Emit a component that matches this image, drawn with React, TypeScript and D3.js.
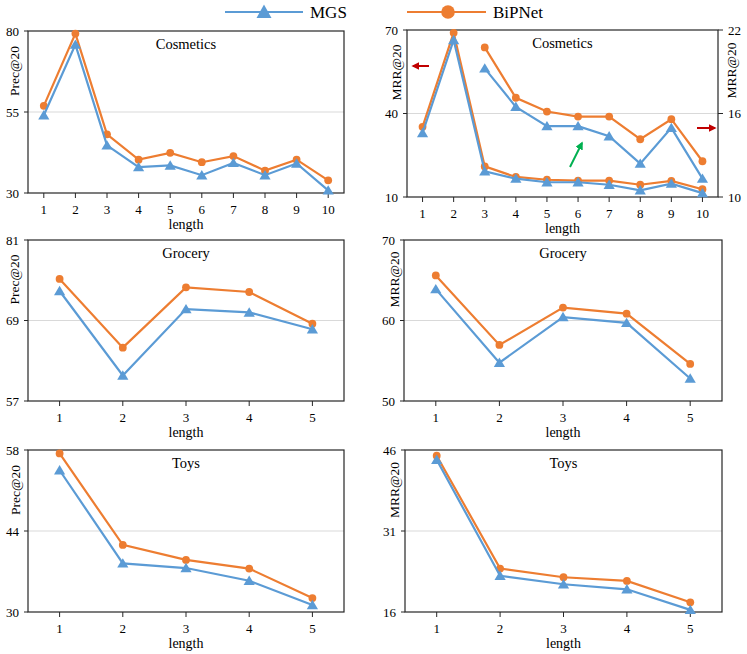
import React from 'react';
import * as d3 from 'd3';

// lengths on the x axis
const cosLengths = ['1', '2', '3', '4', '5', '6', '7', '8', '9', '10'];
const shortLengths = ['1', '2', '3', '4', '5'];
const cosRightLengths = ['3', '4', '5', '6', '7', '8', '9', '10'];

// Cosmetics
const cosPrecMGS = [54.0, 75.8, 44.7, 38.0, 38.5, 35.5, 39.3, 35.5, 39.1, 30.8];
const cosPrecBiP = [56.9, 79.2, 48.1, 40.3, 42.4, 39.5, 41.4, 36.9, 40.3, 33.9];
const cosMrrMGS = [33.0, 66.4, 19.2, 16.6, 15.3, 15.3, 14.4, 12.4, 14.8, 11.4];
const cosMrrBiP = [35.2, 69.0, 21.0, 17.2, 16.2, 15.9, 15.9, 14.4, 15.8, 12.8];
// zoomed copy on the right axis
const cosMrrRightMGS = [19.24, 16.48, 15.09, 15.09, 14.37, 12.4, 14.97, 11.32];
const cosMrrRightBiP = [20.75, 17.13, 16.14, 15.78, 15.78, 14.15, 15.59, 12.57];

// Grocery
const groPrecMGS = [73.4, 60.8, 70.7, 70.2, 67.7];
const groPrecBiP = [75.2, 64.95, 73.94, 73.25, 68.53];
const groMrrMGS = [63.9, 54.76, 60.43, 59.7, 52.8];
const groMrrBiP = [65.6, 56.96, 61.6, 60.85, 54.6];

// Toys
const toyPrecMGS = [54.5, 38.4, 37.6, 35.4, 31.2];
const toyPrecBiP = [57.4, 41.6, 39.0, 37.5, 32.4];
const toyMrrMGS = [44.2, 22.7, 21.14, 20.2, 16.4];
const toyMrrBiP = [44.95, 24.05, 22.44, 21.76, 17.8];

// tick values
const cosPrecTicks = [30, 55, 80];
const cosMrrTicks = [10, 40, 70];
const cosMrrRightTicks = [10, 16, 22];
const groPrecTicks = [57, 69, 81];
const groMrrTicks = [50, 60, 70];
const toyPrecTicks = [30, 44, 58];
const toyMrrTicks = [16, 31, 46];

const BLUE = '#5b9bd5';
const ORANGE = '#ed7d31';
const FONT = '"Liberation Serif", "Times New Roman", serif';

const triPath = 'M0,-5.2L5.6,4.2L-5.6,4.2Z';

interface Series {
  cats: string[];
  values: number[];
  right?: boolean;
}

interface PanelProps {
  x0: number;
  x1: number;
  y0: number;
  y1: number;
  title: string;
  yTitle: string;
  yTitleX: number;
  cats: string[];
  ticks: number[];
  mgs: Series[];
  bip: Series[];
  rightTicks?: number[];
}

const Panel: React.FC<PanelProps> = ({
  x0, x1, y0, y1, title, yTitle, yTitleX, cats, ticks, mgs, bip, rightTicks,
}) => {
  const x = d3.scaleBand<string>().domain(cats).range([x0, x1]);
  const y = d3.scaleLinear().domain([ticks[0], ticks[ticks.length - 1]]).range([y1, y0]);
  const yR = rightTicks
    ? d3.scaleLinear().domain([rightTicks[0], rightTicks[rightTicks.length - 1]]).range([y1, y0])
    : null;
  const cx = (c: string) => (x(c) || 0) + x.bandwidth() / 2;

  const pts = (s: Series) =>
    s.values.map((v, i) => [cx(s.cats[i]), s.right && yR ? yR(v) : y(v)] as [number, number]);
  const line = d3.line<[number, number]>();

  const drawBip = (s: Series, k: number) => {
    const p = pts(s);
    return (
      <g key={'b' + k}>
        <path d={line(p) || ''} fill="none" stroke={ORANGE} strokeWidth={2.2} />
        {p.map((q, i) => (
          <circle key={i} cx={q[0]} cy={q[1]} r={3.9} fill={ORANGE} />
        ))}
      </g>
    );
  };
  const drawMgs = (s: Series, k: number) => {
    const p = pts(s);
    return (
      <g key={'m' + k}>
        <path d={line(p) || ''} fill="none" stroke={BLUE} strokeWidth={2.2} />
        {p.map((q, i) => (
          <path key={i} d={triPath} transform={`translate(${q[0]},${q[1]})`} fill={BLUE} />
        ))}
      </g>
    );
  };

  const mid = ticks[1];
  const yMid = (y0 + y1) / 2 - 41;

  return (
    <g fontFamily={FONT} fill="#000">
      <line x1={x0} x2={x1} y1={y(mid)} y2={y(mid)} stroke="#d9d9d9" strokeWidth={1} />
      <rect x={x0} y={y0} width={x1 - x0} height={y1 - y0} fill="none" stroke="#262626" strokeWidth={1.2} />
      {ticks.map((t) => (
        <g key={t}>
          <line x1={x0 - 4} x2={x0} y1={y(t)} y2={y(t)} stroke="#262626" />
          <text x={x0 - 9} y={y(t)} dy="0.35em" textAnchor="end" fontSize={13}>
            {t}
          </text>
        </g>
      ))}
      {yR && rightTicks &&
        rightTicks.map((t) => (
          <g key={'r' + t}>
            <line x1={x1} x2={x1 + 5} y1={yR(t)} y2={yR(t)} stroke="#262626" />
            <text x={x1 + 10} y={yR(t)} dy="0.35em" textAnchor="start" fontSize={13}>
              {t}
            </text>
          </g>
        ))}
      {cats.map((c) => (
        <g key={c}>
          <line x1={cx(c)} x2={cx(c)} y1={y1} y2={y1 + 5} stroke="#262626" />
          <text x={cx(c)} y={y1 + 16} dy="0.35em" textAnchor="middle" fontSize={13}>
            {c}
          </text>
        </g>
      ))}
      <text x={(x0 + x1) / 2} y={y1 + 31} dy="0.35em" textAnchor="middle" fontSize={14}>
        length
      </text>
      <text
        transform={`translate(${yTitleX},${yMid}) rotate(-90)`}
        dy="0.35em"
        textAnchor="middle"
        fontSize={13.5}
      >
        {yTitle}
      </text>
      {rightTicks && (
        <text
          transform={`translate(${x1 + 13},${yMid - 2}) rotate(-90)`}
          dy="0.35em"
          textAnchor="middle"
          fontSize={13.5}
        >
          {yTitle}
        </text>
      )}
      <text x={(x0 + x1) / 2} y={y0 + 13} dy="0.35em" textAnchor="middle" fontSize={14.5}>
        {title}
      </text>
      {bip.map(drawBip)}
      {mgs.map(drawMgs)}
    </g>
  );
};

const App: React.FC = () => {
  return (
    <svg
      width={747}
      height={654}
      style={{ position: 'absolute', left: 0, top: 0, background: '#fff' }}
    >
      <defs>
        <marker id="arRed" viewBox="0 0 10 10" refX="8" refY="5" markerWidth="4" markerHeight="4" orient="auto">
          <path d="M0,0L10,5L0,10Z" fill="#c00000" />
        </marker>
        <marker id="arGreen" viewBox="0 0 10 10" refX="8" refY="5" markerWidth="4" markerHeight="4" orient="auto">
          <path d="M0,0L10,5L0,10Z" fill="#00b050" />
        </marker>
      </defs>

      {/* legend */}
      <g fontFamily={FONT}>
        <line x1={225} x2={303} y1={12} y2={12} stroke={BLUE} strokeWidth={2.2} />
        <path d="M0,-7.5L7.5,6L-7.5,6Z" transform="translate(264,12)" fill={BLUE} />
        <text x={310} y={12} dy="0.35em" fontSize={17}>MGS</text>
        <line x1={407} x2={486} y1={12} y2={12} stroke={ORANGE} strokeWidth={2.2} />
        <circle cx={448} cy={12} r={6.8} fill={ORANGE} />
        <text x={493} y={12} dy="0.35em" fontSize={17}>BiPNet</text>
      </g>

      <Panel
        x0={28} x1={344} y0={31} y1={193}
        title="Cosmetics" yTitle="Prec@20" yTitleX={14}
        cats={cosLengths} ticks={cosPrecTicks}
        mgs={[{ cats: cosLengths, values: cosPrecMGS }]}
        bip={[{ cats: cosLengths, values: cosPrecBiP }]}
      />
      <Panel
        x0={407} x1={718} y0={30} y1={197}
        title="Cosmetics" yTitle="MRR@20" yTitleX={396}
        cats={cosLengths} ticks={cosMrrTicks} rightTicks={cosMrrRightTicks}
        mgs={[
          { cats: cosLengths, values: cosMrrMGS },
          { cats: cosRightLengths, values: cosMrrRightMGS, right: true },
        ]}
        bip={[
          { cats: cosLengths, values: cosMrrBiP },
          { cats: cosRightLengths, values: cosMrrRightBiP, right: true },
        ]}
      />
      <Panel
        x0={28} x1={344} y0={240} y1={401}
        title="Grocery" yTitle="Prec@20" yTitleX={14}
        cats={shortLengths} ticks={groPrecTicks}
        mgs={[{ cats: shortLengths, values: groPrecMGS }]}
        bip={[{ cats: shortLengths, values: groPrecBiP }]}
      />
      <Panel
        x0={404} x1={722} y0={240} y1={401}
        title="Grocery" yTitle="MRR@20" yTitleX={394}
        cats={shortLengths} ticks={groMrrTicks}
        mgs={[{ cats: shortLengths, values: groMrrMGS }]}
        bip={[{ cats: shortLengths, values: groMrrBiP }]}
      />
      <Panel
        x0={28} x1={344} y0={450} y1={612}
        title="Toys" yTitle="Prec@20" yTitleX={15}
        cats={shortLengths} ticks={toyPrecTicks}
        mgs={[{ cats: shortLengths, values: toyPrecMGS }]}
        bip={[{ cats: shortLengths, values: toyPrecBiP }]}
      />
      <Panel
        x0={405} x1={722} y0={450} y1={612}
        title="Toys" yTitle="MRR@20" yTitleX={394}
        cats={shortLengths} ticks={toyMrrTicks}
        mgs={[{ cats: shortLengths, values: toyMrrMGS }]}
        bip={[{ cats: shortLengths, values: toyMrrBiP }]}
      />

      {/* axis pointers in the Cosmetics MRR panel */}
      <line x1={429} y1={66} x2={413} y2={66} stroke="#c00000" strokeWidth={2} markerEnd="url(#arRed)" />
      <line x1={697} y1={128} x2={715} y2={128} stroke="#c00000" strokeWidth={2} markerEnd="url(#arRed)" />
      <line x1={570} y1={167} x2={582} y2={143} stroke="#00b050" strokeWidth={2} markerEnd="url(#arGreen)" />
    </svg>
  );
};

export default App;
